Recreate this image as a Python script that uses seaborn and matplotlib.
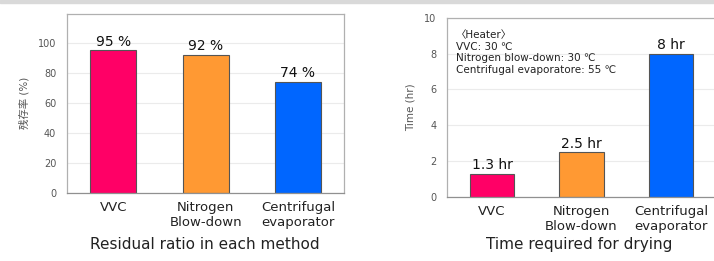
import pandas as pd
import matplotlib
matplotlib.use("Agg")
import matplotlib.pyplot as plt
import seaborn as sns

# Data
methods = ["VVC", "Nitrogen\nBlow-down", "Centrifugal\nevaporator"]
residual_ratio = [95, 92, 74]
drying_time = [1.3, 2.5, 8]
bar_colors = ["#FF0066", "#FF9933", "#0066FF"]
ratio_ticks = [0, 20, 40, 60, 80, 100]
time_ticks = [0, 2, 4, 6, 8, 10]
heater_note = "\u3008Heater\u3009\nVVC: 30 \u2103\nNitrogen blow-down: 30 \u2103\nCentrifugal evaporatore: 55 \u2103"

sns.set_theme(style="white")
plt.rcParams["font.family"] = ["DejaVu Sans", "Noto Sans CJK JP"]

df = pd.DataFrame({"method": methods, "ratio": residual_ratio, "time": drying_time})

fig = plt.figure(figsize=(7.14, 2.61), dpi=100)

# grey strip along the top edge
fig.patches.append(plt.Rectangle((0, 0.987), 1, 0.013, transform=fig.transFigure,
                                 color="#d9d9d9", zorder=0))

ax1 = fig.add_axes([0.0943, 0.2617, 0.3875, 0.6847])
ax2 = fig.add_axes([0.6265, 0.2452, 0.3760, 0.6870])


def style_axis(ax, ticks, ymax):
    ax.set_ylim(0, ymax)
    ax.set_xlim(-0.5, 2.5)
    ax.set_yticks(ticks)
    ax.yaxis.grid(True, color="#ebebeb", linewidth=0.8)
    ax.set_axisbelow(True)
    ax.tick_params(axis="y", labelsize=7, labelcolor="#555555", length=0, pad=8)
    ax.tick_params(axis="x", labelsize=9.5, labelcolor="#222222", length=0, pad=6)
    for side in ["left", "right", "top"]:
        ax.spines[side].set_color("#b0b0b0")
        ax.spines[side].set_linewidth(0.9)
    ax.spines["bottom"].set_color("#909090")
    ax.spines["bottom"].set_linewidth(0.9)
    ax.set_xlabel("")


# Left: residual ratio
sns.barplot(data=df, x="method", y="ratio", hue="method", palette=bar_colors,
            saturation=1, width=0.5, edgecolor="#555555", linewidth=0.8,
            legend=False, ax=ax1)
style_axis(ax1, ratio_ticks, 119)
ax1.set_ylabel("残存率 (%)", fontsize=7.5, color="#555555", labelpad=6)
for cont, v in zip(ax1.containers, residual_ratio):
    ax1.bar_label(cont, labels=[f"{v} %"], fontsize=10, padding=1, color="#111111")

# Right: drying time
sns.barplot(data=df, x="method", y="time", hue="method", palette=bar_colors,
            saturation=1, width=0.5, edgecolor="#555555", linewidth=0.8,
            legend=False, ax=ax2)
style_axis(ax2, time_ticks, 10)
ax2.set_ylabel("Time (hr)", fontsize=7.5, color="#555555", labelpad=6)
for cont, v in zip(ax2.containers, drying_time):
    ax2.bar_label(cont, labels=[f"{v:g} hr"], fontsize=10, padding=1, color="#111111")

ax2.text(0.033, 0.93, heater_note, transform=ax2.transAxes, fontsize=7.5,
         va="top", ha="left", linespacing=1.2, color="#222222",
         family=["DejaVu Sans", "Noto Sans CJK JP"])

fig.text(0.287, 0.035, "Residual ratio in each method", ha="center", va="bottom",
         fontsize=11, color="#222222")
fig.text(0.811, 0.035, "Time required for drying", ha="center", va="bottom",
         fontsize=11, color="#222222")

fig.savefig("out.png", dpi=100)
